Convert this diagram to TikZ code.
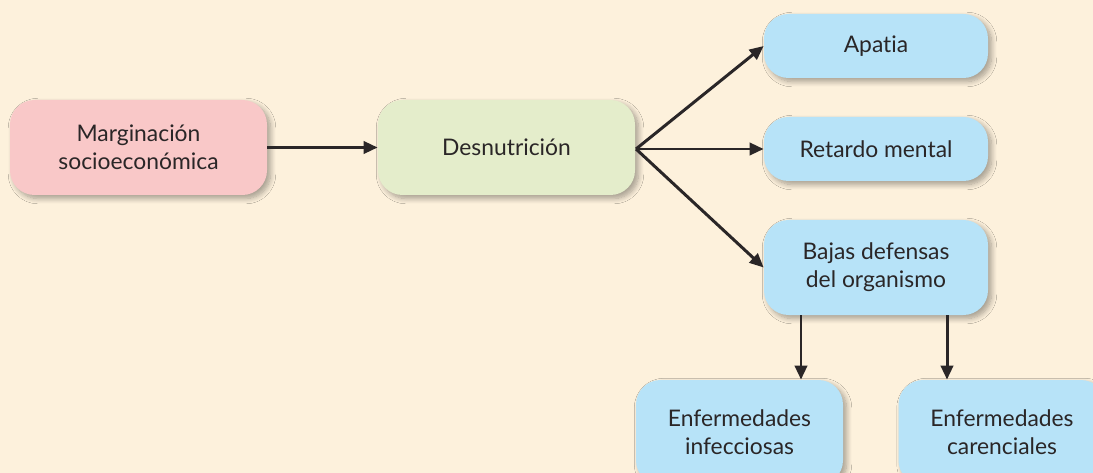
\documentclass[tikz,border=0pt]{standalone}
\usepackage{fontspec}
\setmainfont{Lato}[Ligatures=NoCommon]
\usetikzlibrary{arrows.meta,shadows.blur}
\definecolor{bgcol}{HTML}{FDF1DC}
\definecolor{pinkbox}{HTML}{F9C8C8}
\definecolor{greenbox}{HTML}{E4EDCB}
\definecolor{bluebox}{HTML}{B7E3F8}
\definecolor{txt}{HTML}{2A2627}
\tikzset{
  box/.style={rectangle, rounded corners=14pt, align=center, text=txt,
    font=\fontsize{13}{16}\selectfont, inner sep=0pt,
    blur shadow={shadow xshift=2pt, shadow yshift=-2pt, shadow blur steps=8, shadow opacity=35, shadow blur radius=3pt}},
  arr/.style={draw=txt, line width=1.7pt, -{Triangle[length=8pt,width=7pt]}}
}
\begin{document}
\begin{tikzpicture}[x=0.02cm,y=-0.02cm]
\fill[bgcol] (0,0) rectangle (1093,473);
\useasboundingbox (0,0) rectangle (1093,473);
\clip (0,0) rectangle (1093,473);
\node[box, fill=pinkbox, minimum width=257*0.02cm, minimum height=95*0.02cm] (marg) at (138.5,147.5) {Marginación\\socioeconómica};
\node[box, fill=greenbox, minimum width=257*0.02cm, minimum height=95*0.02cm] (desn) at (506.5,147.5) {Desnutrición};
\node[box, fill=bluebox, minimum width=224*0.02cm, minimum height=64*0.02cm] (apat) at (876,46) {Apatia};
\node[box, fill=bluebox, minimum width=224*0.02cm, minimum height=64*0.02cm] (reta) at (876,149) {Retardo mental};
\node[box, fill=bluebox, minimum width=224*0.02cm, minimum height=95*0.02cm] (baja) at (876,267.5) {Bajas defensas\\del organismo};
\node[box, fill=bluebox, minimum width=207*0.02cm, minimum height=105*0.02cm] (infe) at (739.5,432.5) {Enfermedades\\infecciosas};
\node[box, fill=bluebox, minimum width=207*0.02cm, minimum height=105*0.02cm] (care) at (1002,432.5) {Enfermedades\\carenciales};
\coordinate (fan) at (636,149);
\coordinate (d1) at (801,315);
\coordinate (d2) at (947,315);
\draw[arr] (marg.east) -- (desn.west);
\draw[arr] (fan) -- (apat.west);
\draw[arr] (fan) -- (reta.west);
\draw[arr] (fan) -- (baja.west);
\draw[arr] (d1) -- (d1 |- infe.north);
\draw[arr] (d2) -- (d2 |- care.north);
\end{tikzpicture}
\end{document}
